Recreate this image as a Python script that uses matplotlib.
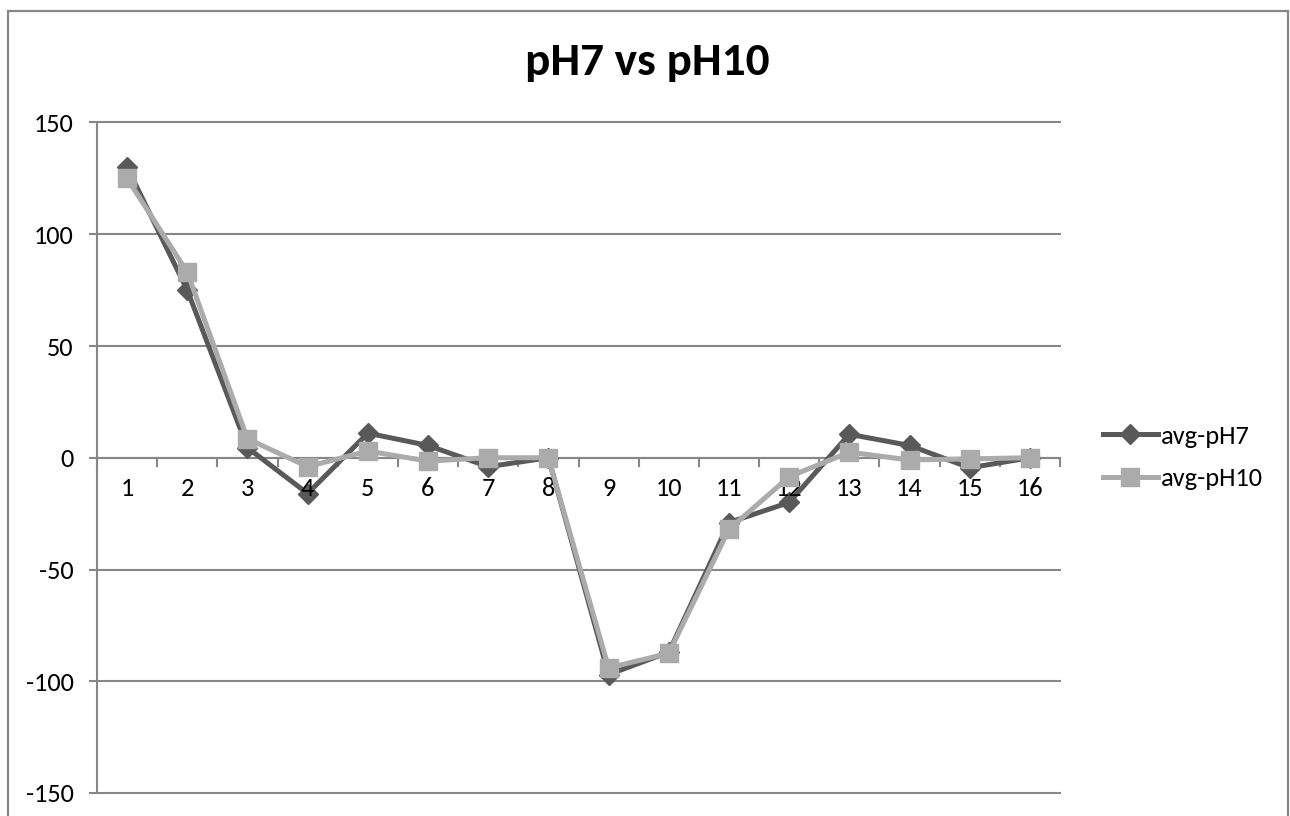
import matplotlib.pyplot as plt
from matplotlib.patches import Rectangle
from matplotlib.ticker import MultipleLocator

plt.rcParams['font.family'] = ['Carlito', 'Lato', 'DejaVu Sans']
plt.rcParams['axes.unicode_minus'] = False

# averaged readings per position
positions = list(range(1, 17))
avg_ph7 = [130, 75, 4.5, -16, 11, 5.5, -4, 0, -97, -87, -29, -20, 10.5, 5.5, -4.5, 0]
avg_ph10 = [125, 83, 8.5, -4, 3, -1.5, 0, 0, -94, -87.5, -32, -8.5, 2.5, -1, -0.5, 0]

dark = '#595959'
light = '#ABABAB'
axis_grey = '#878787'

fig = plt.figure(figsize=(12.9, 8.16), dpi=100)
ax = fig.add_axes([97 / 1290, 1 - 793 / 816, (1060 - 97) / 1290, (793 - 122.5) / 816])

# outer chart frame
fig.patches.append(Rectangle((7.5 / 1290, -0.05), 1280 / 1290, 1.05 - 10.5 / 816,
                             transform=fig.transFigure, fill=False,
                             edgecolor=axis_grey, linewidth=1.6, clip_on=False))

ax.plot(positions, avg_ph7, color=dark, linewidth=3.6, marker='D', markersize=10,
        label='avg-pH7', zorder=3)
ax.plot(positions, avg_ph10, color=light, linewidth=3.6, marker='s', markersize=13,
        label='avg-pH10', zorder=4)

ax.set_xlim(0.5, 16.5)
ax.set_ylim(-150, 150)
ax.yaxis.set_major_locator(MultipleLocator(50))
ax.yaxis.grid(True, color=axis_grey, linewidth=1.5)
ax.set_axisbelow(True)
for gl in ax.get_ygridlines():
    gl.set_clip_on(False)

for side in ['top', 'right', 'bottom']:
    ax.spines[side].set_visible(False)
ax.spines['left'].set_color(axis_grey)
ax.spines['left'].set_linewidth(1.5)

# category axis drawn across y = 0
ax.axhline(0, color=axis_grey, linewidth=1.5, zorder=2)
ax.set_xticks([])
for i in range(17):
    ax.plot([0.5 + i, 0.5 + i], [0, -3.6], color=axis_grey, linewidth=1.5,
            clip_on=False, zorder=2)
for p in positions:
    ax.text(p, -8.5, str(p), ha='center', va='top', fontsize=19, color='black')

ax.tick_params(axis='y', length=6, width=1.5, color=axis_grey, labelsize=19, pad=11)

fig.text(647 / 1290, 1 - 75 / 816, 'pH7 vs pH10', ha='center', va='baseline',
         fontsize=34, fontweight='bold')

fig.legend(loc='center left', bbox_to_anchor=(1079 / 1290, 1 - 457.5 / 816),
           frameon=False, fontsize=19, handlelength=2.1, labelspacing=0.75,
           handletextpad=0.1)

fig.savefig('out.png', dpi=100)
